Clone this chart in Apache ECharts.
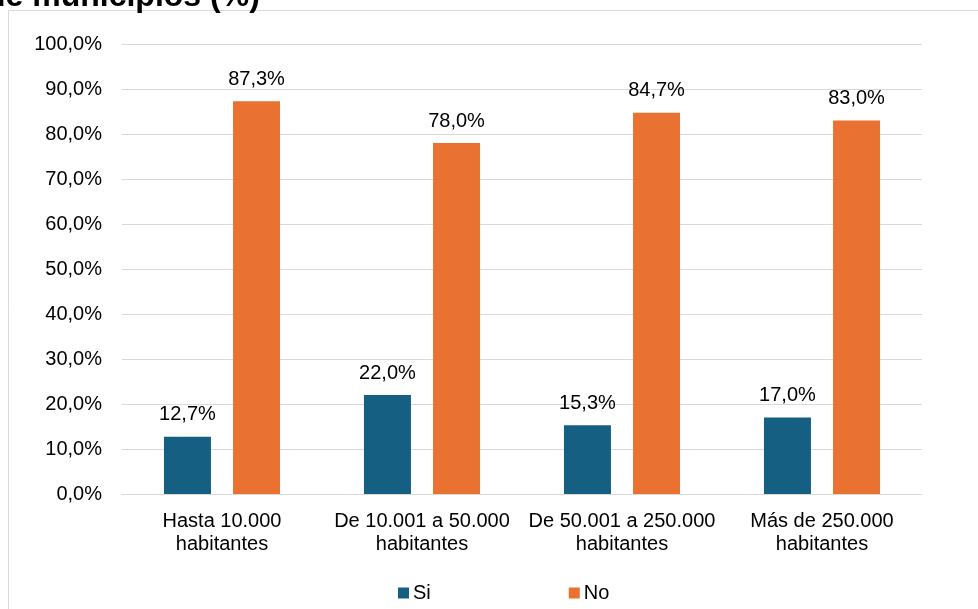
<!DOCTYPE html>
<html>
<head>
<meta charset="utf-8">
<script src="https://cdn.jsdelivr.net/npm/echarts@6/dist/echarts.min.js"></script>
<style>html,body{margin:0;padding:0;background:#fff}#c{width:978px;height:609px}</style>
</head>
<body>
<div id="c"></div>
<script>
const categories = ["Hasta 10.000\nhabitantes", "De 10.001 a 50.000\nhabitantes", "De 50.001 a 250.000\nhabitantes", "Más de 250.000\nhabitantes"];
const seriesNames = ["Si", "No"];
const siValues = [12.7, 22.0, 15.3, 17.0];
const noValues = [87.3, 78.0, 84.7, 83.0];
const titleText = "de municipios (%)";
const colors = ["#156082", "#E97132"];

const fmt = v => v.toFixed(1).replace('.', ',') + '%';
const font = "'Liberation Sans', Arial, sans-serif";

const chart = echarts.init(document.getElementById('c'), null, {renderer: 'canvas'});
chart.setOption({
  animation: false,
  color: colors,
  textStyle: {fontFamily: font},
  graphic: [
    {type: 'rect', shape: {x: 8.5, y: 10.5, width: 1100, height: 800}, style: {fill: null, stroke: '#d9d9d9', lineWidth: 1}, z: -1},
    {type: 'text', left: -14, top: -19, style: {text: titleText, font: "bold 32px 'Liberation Sans', Arial, sans-serif", fill: '#000'}}
  ],
  grid: {left: 122, right: 56, top: 44, bottom: 115, containLabel: false},
  legend: {
    data: seriesNames,
    left: 398, top: 583, padding: 0,
    itemWidth: 11, itemHeight: 11, itemGap: 138,
    icon: 'rect',
    textStyle: {fontSize: 20, color: '#000', fontFamily: font, padding: [0, 0, 0, -1]}
  },
  xAxis: {
    type: 'category',
    data: categories,
    axisTick: {show: false},
    axisLine: {lineStyle: {color: '#d9d9d9', width: 1}},
    axisLabel: {interval: 0, fontSize: 20, color: '#000', lineHeight: 23, margin: 16, fontFamily: font}
  },
  yAxis: {
    type: 'value',
    min: 0, max: 100, interval: 10,
    axisLine: {show: false},
    axisTick: {show: false},
    splitLine: {lineStyle: {color: '#d9d9d9', width: 1}},
    axisLabel: {fontSize: 20, color: '#000', margin: 20, formatter: fmt, fontFamily: font}
  },
  series: [
    {name: seriesNames[0], type: 'bar', data: siValues, barWidth: 47, barGap: '47%',
     label: {show: true, position: 'top', distance: 12, fontSize: 20, color: '#000', formatter: p => fmt(p.value), fontFamily: font}},
    {name: seriesNames[1], type: 'bar', data: noValues, barWidth: 47, barGap: '47%',
     label: {show: true, position: 'top', distance: 12, fontSize: 20, color: '#000', formatter: p => fmt(p.value), fontFamily: font}}
  ]
});
</script>
</body>
</html>
